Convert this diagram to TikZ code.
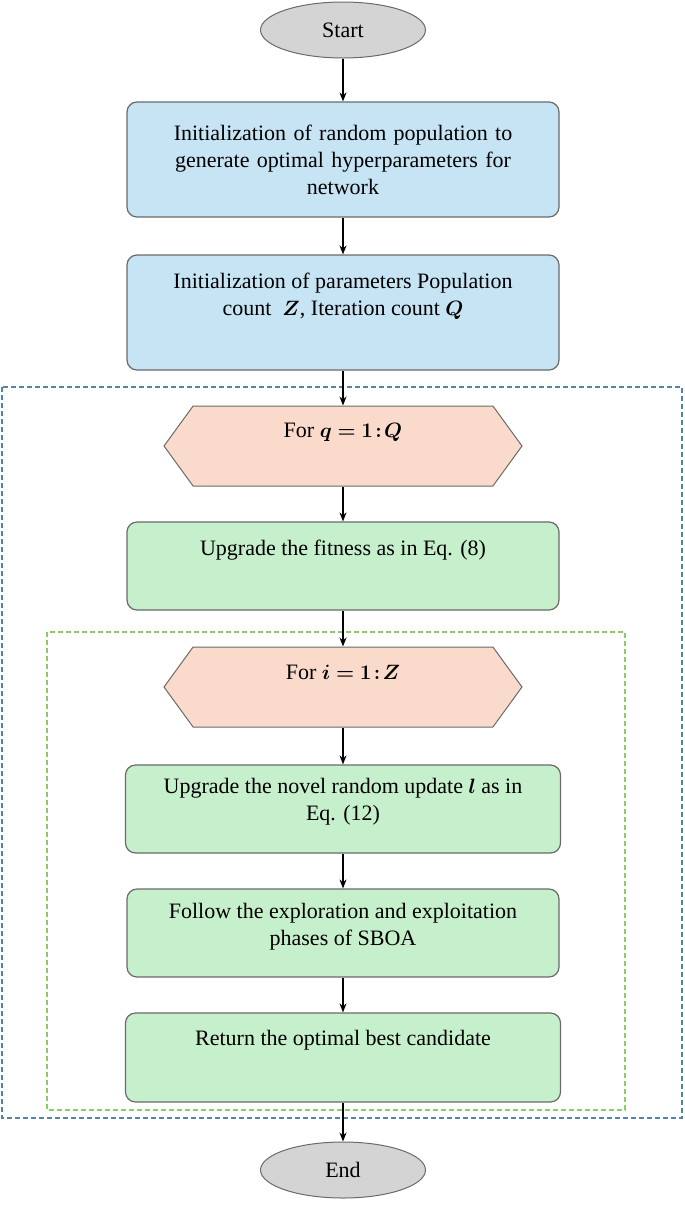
\documentclass[tikz,border=0pt]{standalone}
\usepackage{amsmath,bm}
\usepackage{fontspec}
\setmainfont{Liberation Serif}
\usetikzlibrary{shapes.geometric,shapes.symbols,arrows.meta}
\begin{document}
\definecolor{bfill}{HTML}{C6E4F4}
\definecolor{gfill}{HTML}{C6EFCC}
\definecolor{pfill}{HTML}{F9DACB}
\definecolor{efill}{HTML}{D4D4D4}
\definecolor{edge}{HTML}{6A6A6A}
\definecolor{bdash}{HTML}{4F86A8}
\definecolor{gdash}{HTML}{8CCB6A}
\begin{tikzpicture}[x=1pt,y=-1pt,
  font=\fontsize{22}{27}\selectfont,
  term/.style={ellipse,draw=edge,fill=efill,line width=1pt,minimum width=165pt,minimum height=56pt},
  box/.style={rectangle,rounded corners=10pt,draw=edge,line width=1.2pt,minimum width=432pt,align=center,text width=420pt},
  hex/.style={signal,signal to=east and west,signal pointer angle=108,draw=edge,fill=pfill,line width=1pt,minimum width=358pt,minimum height=80pt},
  arr/.style={-{Stealth[length=9pt,width=7pt]},line width=1.2pt,black}]
\useasboundingbox (0,0) rectangle (685,1219);
\node[term] (start) at (343,30) {Start};
\node[box,fill=bfill,minimum height=115pt] (b1) at (343,159.5) {Initialization of random population to\\generate optimal hyperparameters for\\network};
\node[box,fill=bfill,minimum height=115pt] (b2) at (343,312.5) {};
\node[align=center] at (343,296) {Initialization of parameters Population\\count \ $\bm{Z}$, Iteration count $\bm{Q}$};
\draw[bdash,dashed,line width=1.5pt,dash pattern=on 5pt off 3pt] (2,387) rectangle (682,1118);
\node[hex] (h1) at (343,446) {};
\node at (343,432) {For $\bm{q=1\!:\!Q}$};
\node[box,fill=gfill,minimum height=88pt] (b3) at (343,566) {};
\node at (343,550) {Upgrade the fitness as in Eq. (8)};
\draw[gdash,dashed,line width=1.5pt,dash pattern=on 5pt off 3pt] (47,632) rectangle (625,1110);
\node[hex] (h2) at (343,687) {};
\node at (343,672) {For $\bm{i=1\!:\!Z}$};
\node[box,fill=gfill,minimum height=88pt,minimum width=435pt] (b4) at (343,809) {};
\node[align=center] at (343,802) {Upgrade the novel random update $\bm{l}$ as in\\Eq. (12)};
\node[box,fill=gfill,minimum height=88pt] (b5) at (343,933) {};
\node[align=center] at (343,927) {Follow the exploration and exploitation\\phases of SBOA};
\node[box,fill=gfill,minimum height=89pt,minimum width=435pt] (b6) at (343,1057.5) {};
\node at (343,1040) {Return the optimal best candidate};
\node[term] (end) at (343,1170) {End};
\draw[arr] (start) -- (b1);
\draw[arr] (b1) -- (b2);
\draw[arr] (b2.south) -- (h1.north);
\draw[arr] (h1.south) -- (b3.north);
\draw[arr] (b3.south) -- (h2.north);
\draw[arr] (h2.south) -- (b4.north);
\draw[arr] (b4.south) -- (b5.north);
\draw[arr] (b5.south) -- (b6.north);
\draw[arr] (b6.south) -- (end);
\end{tikzpicture}
\end{document}
